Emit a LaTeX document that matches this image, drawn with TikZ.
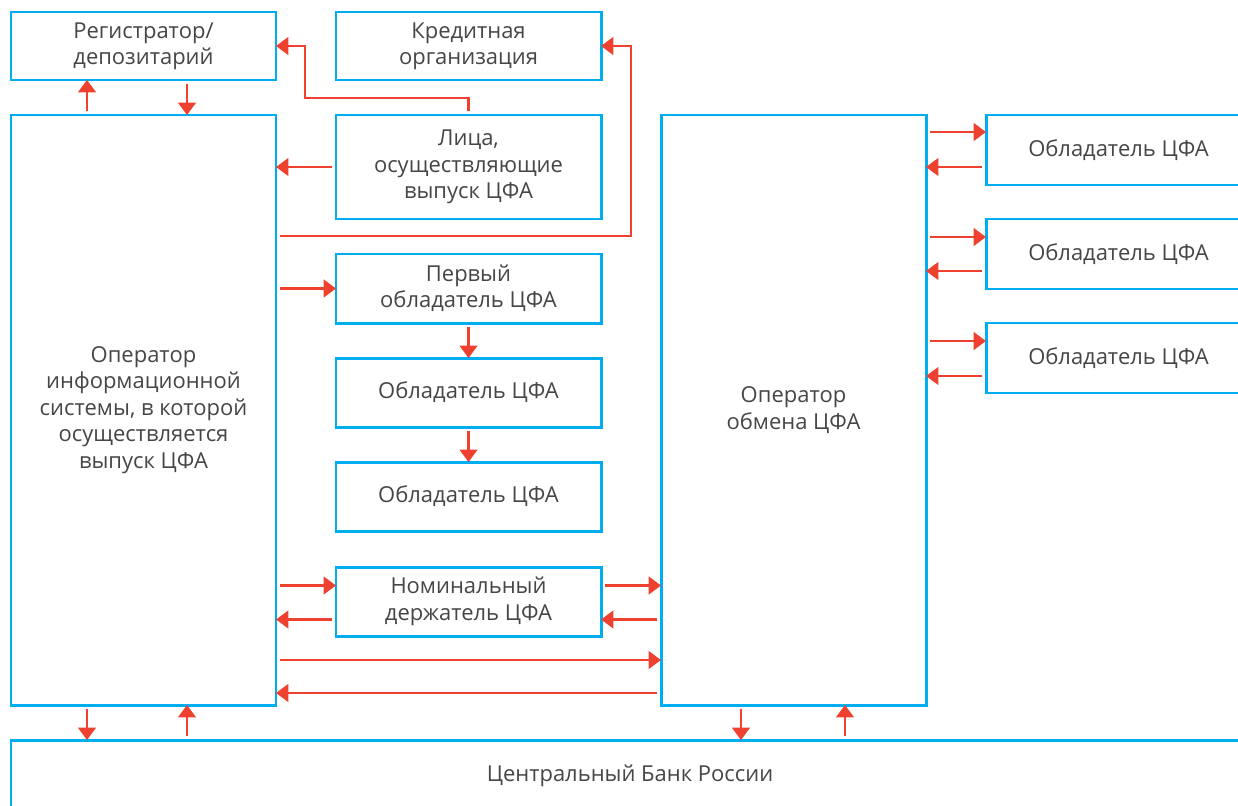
\documentclass[tikz,border=0pt]{standalone}
\usepackage{fontspec}
\setmainfont{Open Sans}
\usetikzlibrary{arrows.meta, positioning}
\definecolor{boxblue}{RGB}{0,174,239}
\definecolor{arrowred}{RGB}{238,65,48}
\definecolor{textgray}{RGB}{70,70,70}

\begin{document}
\begin{tikzpicture}[
    node distance=0.7cm and 1.2cm,
    box/.style={rectangle, draw=boxblue, line width=1.7pt, fill=white, outer sep=0pt, inner sep=2pt,
                minimum width=5.3cm, minimum height=1.38cm, align=center, text=textgray,
                font=\fontsize{12.5}{15}\selectfont},
    arrow/.style={-{Triangle[length=7pt, width=10pt]}, line width=1.3pt, color=arrowred, shorten <=2pt}
]
\useasboundingbox (0,0) rectangle (24.76,-16.1);
\clip (0,0) rectangle (24.76,-16.1);

% --- Registrar / depository ---
\node[box, minimum height=1.36cm, anchor=north west] (reg) at (0.22,-0.24) {Регистратор/\\депозитарий};

% --- Credit organisation ---
\node[box, minimum height=1.36cm, right=of reg] (kred) {Кредитная\\организация};

% --- Issuing information system operator ---
\node[box, minimum height=11.8cm, below=of reg] (isys) {Оператор\\информационной\\системы, в которой\\осуществляется\\выпуск ЦФА};
\draw[arrow] ([xshift=-1.13cm]isys.north) -- ([xshift=-1.13cm]reg.south);
\draw[arrow] ([xshift=0.87cm]reg.south) -- ([xshift=0.87cm]isys.north);

% --- Issuers ---
\node[box, minimum height=2.08cm, below=of kred] (lica) {Лица,\\осуществляющие\\выпуск ЦФА};
\draw[arrow] (lica.west) -- (lica.west -| isys.east);
\draw[arrow] (lica.north) -- ++(0,0.34) -| ([xshift=0.58cm]reg.east) -- (reg.east);
\draw[arrow] ([yshift=3.48cm]isys.east) -| ([xshift=0.6cm]kred.east) -- (kred.east);

% --- Holders chain ---
\node[box, below=of lica] (perv) {Первый\\обладатель ЦФА};
\draw[arrow] (perv.west -| isys.east) -- (perv.west);

\node[box, below=of perv] (obla) {Обладатель ЦФА};
\draw[arrow] (perv.south) -- (obla.north);

\node[box, below=of obla] (oblb) {Обладатель ЦФА};
\draw[arrow] (obla.south) -- (oblb.north);

% --- Nominee holder ---
\node[box, below=0.72cm of oblb] (nom) {Номинальный\\держатель ЦФА};
\draw[arrow] ([yshift=0.32cm]nom.west -| isys.east) -- ([yshift=0.32cm]nom.west);
\draw[arrow] ([yshift=-0.36cm]nom.west) -- ([yshift=-0.36cm]nom.west -| isys.east);

% --- Exchange operator ---
\node[box, minimum height=11.8cm, right=1.2cm of lica.north east, anchor=north west] (obmen) {Оператор\\обмена ЦФА};
\draw[arrow] ([yshift=0.32cm]nom.east) -- ([yshift=0.32cm]nom.east -| obmen.west);
\draw[arrow] ([yshift=-0.36cm]nom.east -| obmen.west) -- ([yshift=-0.36cm]nom.east);
\draw[arrow] ([yshift=-5cm]isys.east) -- ([yshift=-5cm]isys.east -| obmen.west);
\draw[arrow] ([yshift=-5.66cm]isys.east -| obmen.west) -- ([yshift=-5.66cm]isys.east);

% --- Holders on the exchange ---
\node[box, minimum height=1.4cm, right=1.2cm of obmen.north east, anchor=north west] (rha) {Обладатель ЦФА};
\node[box, minimum height=1.4cm, below=0.68cm of rha] (rhb) {Обладатель ЦФА};
\node[box, minimum height=1.4cm, below=0.68cm of rhb] (rhc) {Обладатель ЦФА};
\draw[arrow] ([yshift=0.36cm]rha.west -| obmen.east) -- ([yshift=0.36cm]rha.west);
\draw[arrow] ([yshift=-0.34cm]rha.west) -- ([yshift=-0.34cm]rha.west -| obmen.east);
\draw[arrow] ([yshift=0.34cm]rhb.west -| obmen.east) -- ([yshift=0.34cm]rhb.west);
\draw[arrow] ([yshift=-0.34cm]rhb.west) -- ([yshift=-0.34cm]rhb.west -| obmen.east);
\draw[arrow] ([yshift=0.34cm]rhc.west -| obmen.east) -- ([yshift=0.34cm]rhc.west);
\draw[arrow] ([yshift=-0.36cm]rhc.west) -- ([yshift=-0.36cm]rhc.west -| obmen.east);

% --- Central bank ---
\node[box, minimum width=24.76cm, minimum height=1.42cm, below=0.7cm of isys.south west, anchor=north west] (cb) {Центральный Банк России};
\draw[arrow] ([xshift=-1.13cm]isys.south) -- ([xshift=-1.13cm]isys.south |- cb.north);
\draw[arrow] ([xshift=0.87cm]isys.south |- cb.north) -- ([xshift=0.87cm]isys.south);
\draw[arrow] ([xshift=-1.05cm]obmen.south) -- ([xshift=-1.05cm]obmen.south |- cb.north);
\draw[arrow] ([xshift=1.03cm]obmen.south |- cb.north) -- ([xshift=1.03cm]obmen.south);

\end{tikzpicture}
\end{document}
